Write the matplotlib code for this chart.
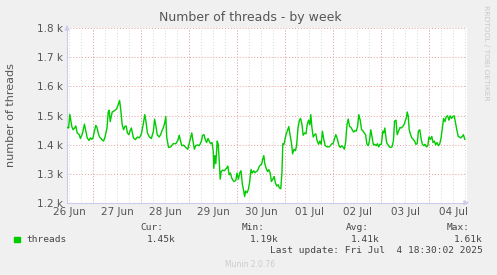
import matplotlib
matplotlib.use('Agg')
import matplotlib.pyplot as plt
from matplotlib.ticker import FuncFormatter

# hours since 26 Jun 00:00
hours = [
    10.9, 11.6, 12.2, 12.7, 13.2, 13.9, 14.6, 15.2, 15.9, 16.9, 17.5, 18.5, 19.5, 20.2, 20.9,
    21.8, 22.5, 23.2, 23.8, 24.5, 25.2, 25.8, 26.5, 27.1, 28.1, 29.1, 29.8, 30.8, 31.4, 31.9,
    32.4, 32.9, 33.4, 34.1, 34.8, 35.6, 36.4, 37.1, 37.7, 38.4, 39.1, 39.7, 40.4, 41.0, 41.7,
    42.4, 43.0, 44.0, 45.0, 46.0, 47.0, 48.0, 49.0, 49.7, 50.3, 51.0, 52.0, 53.0, 54.0, 54.6,
    55.3, 55.9, 56.9, 57.6, 58.3, 58.9, 59.6, 60.2, 60.7, 61.6, 62.6, 63.9, 65.2, 66.2, 66.9,
    67.5, 68.2, 69.2, 70.2, 71.2, 72.2, 73.2, 73.8, 74.5, 75.1, 76.1, 76.8,
    77.3, 78.0, 78.6, 79.3, 79.9, 80.6, 81.3, 81.9, 82.6, 83.3, 83.9, 84.2, 84.7, 85.2, 85.9,
    86.4, 86.9, 87.4, 87.9, 88.6, 89.5, 90.5, 91.2, 91.9, 92.5, 93.2, 94.2, 95.2, 95.8, 96.5,
    97.2, 97.8, 98.5, 99.1, 99.6, 100.1, 100.8, 101.5, 102.1, 102.8, 103.4, 104.1, 104.8, 105.4,
    106.1, 106.8, 107.4, 108.1, 108.7, 109.2, 109.7, 110.4, 111.1, 111.7, 112.4, 113.0, 113.7,
    114.4, 115.0, 115.7, 116.4, 117.0, 117.7, 118.3, 118.7, 119.3, 119.8, 120.3, 121.0, 121.7,
    122.3, 123.0, 123.6, 124.3, 125.0, 125.6, 126.3, 127.0, 127.6, 128.3, 128.9, 129.6, 130.3,
    130.9, 131.6, 132.2, 132.7, 133.2, 133.9, 134.6, 135.2, 135.9, 136.6, 137.2, 137.9, 138.5,
    139.2, 139.9, 140.9, 141.8, 142.5, 143.2,
    143.8, 144.5, 145.2, 145.7, 146.2, 146.8, 147.5, 148.1, 148.8, 149.5, 150.1, 150.8, 151.4,
    152.1, 152.8, 153.4, 154.1, 154.8, 155.4, 156.1, 156.7, 157.4, 158.1, 158.7, 159.4, 160.1,
    160.7, 161.4, 162.0, 162.7, 163.4, 164.0, 164.7, 165.4, 166.0, 166.7, 167.3, 168.0, 168.7,
    169.2, 169.7, 170.2, 170.6, 171.3, 172.0, 172.6, 173.3, 174.0, 174.6, 175.3, 175.9, 176.6,
    177.3, 177.9, 178.6, 179.3, 179.9, 180.6, 180.9, 181.4, 181.9, 182.6, 183.2, 183.9, 184.6,
    185.2, 185.9, 186.5, 187.2, 187.9, 188.5, 189.2, 189.8, 190.5, 191.2, 191.8, 192.5, 193.2,
    193.8, 194.5, 195.1, 195.8, 196.5, 197.1, 197.8, 198.5, 199.1, 199.8, 200.4, 201.1, 201.8,
    202.4, 203.1, 203.7, 204.4, 205.0, 205.7, 206.4, 207.0, 207.7, 208.4, 209.0, 209.7,
]
threads = [
    1459, 1457, 1504, 1484, 1462, 1451, 1457, 1464, 1440, 1434, 1421, 1437, 1470, 1446, 1423,
    1414, 1423, 1418, 1423, 1446, 1466, 1459, 1437, 1426, 1418, 1412, 1426, 1457, 1512, 1518,
    1479, 1496, 1512, 1514, 1518, 1523, 1537, 1552, 1518, 1468, 1451, 1462, 1464, 1440, 1434,
    1448, 1457, 1423, 1417, 1426, 1423, 1437, 1473, 1503, 1479, 1440, 1426, 1421, 1446, 1487,
    1462, 1434, 1426, 1434, 1448, 1457, 1473, 1496, 1423, 1390, 1392, 1403, 1403, 1414, 1432,
    1414, 1396, 1398, 1390, 1384, 1412, 1440, 1412, 1384, 1396, 1399, 1396,
    1401, 1412, 1432, 1434, 1418, 1407, 1421, 1412, 1403, 1407, 1379, 1318, 1362, 1334, 1412,
    1401, 1346, 1281, 1307, 1312, 1310, 1318, 1326, 1296, 1302, 1284, 1273, 1276, 1302, 1281,
    1303, 1310, 1262, 1243, 1221, 1240, 1234, 1246, 1270, 1314, 1302, 1310, 1303, 1307,
    1310, 1323, 1329, 1332, 1351, 1362, 1334, 1318, 1307, 1314, 1302, 1273, 1281,
    1290, 1268, 1257, 1262, 1251, 1248, 1307, 1403, 1401, 1418, 1434, 1448, 1462,
    1434, 1407, 1368, 1384, 1379, 1396, 1457, 1484, 1490, 1468, 1432, 1440, 1437,
    1468, 1484, 1468, 1503, 1462, 1426, 1434, 1437, 1412, 1401, 1412, 1401, 1446,
    1418, 1396, 1392, 1392, 1396, 1403,
    1403, 1418, 1434, 1426, 1412, 1396, 1390, 1396, 1392, 1384, 1407, 1468, 1488,
    1462, 1459, 1451, 1443, 1448, 1446, 1462, 1503, 1484, 1451, 1448, 1440, 1434,
    1403, 1396, 1412, 1451, 1423, 1399, 1401, 1396, 1403, 1392, 1401, 1401, 1446,
    1440, 1457, 1428, 1407, 1399, 1392, 1390, 1392, 1412, 1481, 1484, 1434, 1446,
    1459, 1457, 1462, 1468, 1481, 1496, 1512, 1499, 1451, 1434, 1423, 1418, 1412,
    1401, 1403, 1446, 1451, 1418, 1401, 1396, 1401, 1392, 1396, 1426, 1418, 1428,
    1407, 1412, 1399, 1407, 1396, 1401, 1421, 1457, 1490, 1479, 1496, 1499, 1484,
    1499, 1490, 1496, 1499, 1477, 1451, 1428, 1426, 1423, 1428, 1434, 1418,
]

day_labels = ['26 Jun', '27 Jun', '28 Jun', '29 Jun', '30 Jun', '01 Jul', '02 Jul', '03 Jul', '04 Jul']
y_ticks = [1200, 1300, 1400, 1500, 1600, 1700, 1800]

W, H = 497, 275
fig = plt.figure(figsize=(W / 100, H / 100), dpi=100, facecolor='#f0f0f0')
ax = fig.add_axes([67 / W, 1 - 202.7 / H, 400 / W, (202.7 - 28.3) / H])
ax.set_facecolor('white')

x0, x1 = 10.8, 210.8
ax.set_xlim(x0, x1)
ax.set_ylim(1200, 1800)

dot = (0, (1, 2))
# grey minor grid every 6 hours, red at midnight and every 100 threads
six_hours = [h for h in range(0, 217, 6) if x0 < h < x1]
ax.vlines(six_hours, 1200, 1800, colors='#d8d8d8', linestyles=dot, lw=0.7, zorder=1)
midnights = [h for h in range(0, 217, 24) if x0 < h < x1]
ax.vlines(midnights, 1200, 1800, colors='#e8a0a0', linestyles=dot, lw=0.7, zorder=2)
ax.hlines(y_ticks[1:], x0, x1, colors='#e8a0a0', linestyles=dot, lw=0.7, zorder=2)

ax.plot(hours, threads, color='#00cc00', lw=1.0, zorder=3)

noon = [12 + 24 * i for i in range(len(day_labels))]
ax.set_xticks(noon)
ax.set_xticklabels(day_labels)
ax.set_yticks(y_ticks)
ax.yaxis.set_major_formatter(FuncFormatter(lambda v, p: f'{v / 1000:.1f} k'))
ax.tick_params(length=0, labelsize=7.5, colors='#555555', pad=3)

for s in ['top', 'right']:
    ax.spines[s].set_visible(False)
for s in ['left', 'bottom']:
    ax.spines[s].set_color('#ccccee')
    ax.spines[s].set_linewidth(0.8)

ax.annotate('', xy=(1.012, 0), xytext=(0.99, 0), xycoords='axes fraction',
            arrowprops=dict(arrowstyle='-|>', color='#ccccee', lw=0.8, mutation_scale=7))
ax.annotate('', xy=(0, 1.035), xytext=(0, 0.99), xycoords='axes fraction',
            arrowprops=dict(arrowstyle='-|>', color='#ccccee', lw=0.8, mutation_scale=7))

ax.set_ylabel('number of threads', fontsize=8, color='#555555', labelpad=15)

fig.text(250 / W, 1 - 18 / H, 'Number of threads - by week', ha='center', va='center',
         fontsize=9, color='#555555')
fig.text(486 / W, 1 - 5 / H, 'RRDTOOL / TOBI OETIKER', rotation=270, ha='center', va='top',
         fontsize=5.4, color='#c8c8c8')

mono = 'DejaVu Sans Mono'
fs = 6.8
fc = '#444444'
fig.patches.append(plt.Rectangle((14 / W, 1 - 242 / H), 6 / W, 5.5 / H,
                                 transform=fig.transFigure, color='#00cc00'))
fig.text(26.5 / W, 1 - 239.5 / H, 'threads', family=mono, fontsize=fs, color=fc, va='center')
fig.text(163.5 / W, 1 - 227.5 / H, 'Cur:', family=mono, fontsize=fs, color=fc, va='center', ha='right')
fig.text(176 / W, 1 - 239.5 / H, '1.45k', family=mono, fontsize=fs, color=fc, va='center', ha='right')
fig.text(265 / W, 1 - 227.5 / H, 'Min:', family=mono, fontsize=fs, color=fc, va='center', ha='right')
fig.text(278.5 / W, 1 - 239.5 / H, '1.19k', family=mono, fontsize=fs, color=fc, va='center', ha='right')
fig.text(368.5 / W, 1 - 227.5 / H, 'Avg:', family=mono, fontsize=fs, color=fc, va='center', ha='right')
fig.text(380 / W, 1 - 239.5 / H, '1.41k', family=mono, fontsize=fs, color=fc, va='center', ha='right')
fig.text(470 / W, 1 - 227.5 / H, 'Max:', family=mono, fontsize=fs, color=fc, va='center', ha='right')
fig.text(482.5 / W, 1 - 239.5 / H, '1.61k', family=mono, fontsize=fs, color=fc, va='center', ha='right')
fig.text(482.5 / W, 1 - 250.5 / H, 'Last update: Fri Jul  4 18:30:02 2025', family=mono,
         fontsize=fs, color=fc, va='center', ha='right')
fig.text(250 / W, 1 - 264.5 / H, 'Munin 2.0.76', fontsize=5.5, color='#cccccc', ha='center', va='center')

fig.savefig('out.png', dpi=100, facecolor=fig.get_facecolor())
